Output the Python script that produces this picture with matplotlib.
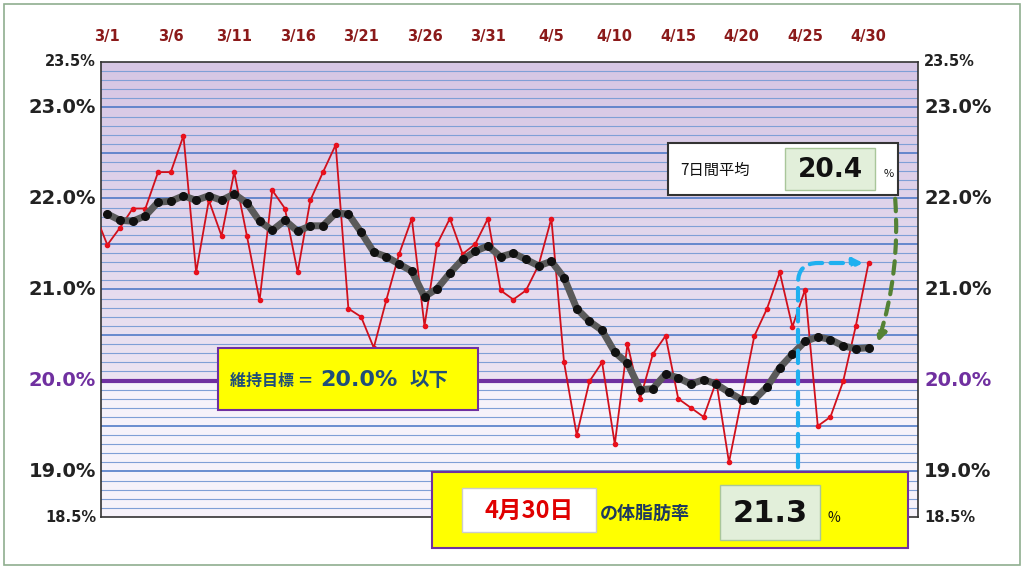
import matplotlib
matplotlib.use("Agg")
import matplotlib.pyplot as plt
import numpy as np
from matplotlib.patches import Rectangle, FancyArrowPatch

plt.rcParams['font.family'] = ['Noto Sans CJK JP', 'DejaVu Sans']

tick_labels = ["3/1","3/6","3/11","3/16","3/21","3/26","3/31","4/5","4/10","4/15","4/20","4/25","4/30"]
prev_value = 21.84
daily = [21.49,21.68,21.89,21.89,22.29,22.29,22.69,21.19,21.98,21.59,
         22.29,21.59,20.88,22.09,21.89,21.19,21.98,22.29,22.59,20.79,
         20.70,20.36,20.89,21.39,21.78,20.60,21.50,21.78,21.39,21.50,
         21.78,20.99,20.89,20.99,21.27,21.78,20.20,19.40,19.99,20.20,
         19.30,20.40,19.80,20.29,20.49,19.80,19.70,19.60,19.99,19.10,
         19.80,20.49,20.79,21.19,20.59,21.00,19.50,19.60,19.99,20.60,21.29]
avg7 = [21.83,21.76,21.75,21.81,21.96,21.97,22.03,21.98,22.03,21.98,
        22.05,21.95,21.75,21.65,21.76,21.64,21.70,21.70,21.84,21.83,
        21.63,21.41,21.36,21.28,21.20,20.92,21.01,21.18,21.33,21.42,
        21.48,21.36,21.40,21.33,21.26,21.31,21.13,20.79,20.65,20.55,
        20.31,20.19,19.90,19.91,20.07,20.03,19.96,20.01,19.96,19.87,
        19.79,19.79,19.93,20.14,20.29,20.43,20.48,20.45,20.38,20.35,20.36]
target = 20.0
latest_avg = "20.4"
latest_val = "21.3"

W, H = 1024, 570
fig = plt.figure(figsize=(W/100, H/100), dpi=100)
def fx(x): return x / W
def fy(y): return 1 - y / H

ax = fig.add_axes([fx(101), fy(517), fx(918) - fx(101), fy(62) - fy(517)])
ax.set_xlim(-0.5, 63.9)
ax.set_ylim(18.5, 23.5)

top = np.linspace(0, 1, 100).reshape(-1, 1)
ax.imshow(top, extent=[-0.5, 63.9, 20.0, 23.5], aspect='auto', origin='lower',
          cmap=matplotlib.colors.LinearSegmentedColormap.from_list('p', ['#ece4f2', '#d6c6e4']), zorder=0)
ax.axhspan(18.5, 20.0, color='#f6f2fa', zorder=0)
for v in np.arange(18.6, 23.45, 0.1):
    strong = abs(v * 2 - round(v * 2)) < 1e-6
    ax.axhline(v, color='#4472c4' if strong else '#7f9fd6', lw=1.1 if strong else 0.8, zorder=1)
ax.axhline(target, color='#7030a0', lw=3, zorder=2)

n = len(daily)
x = np.arange(n)
ax.plot(np.r_[-1, x], [prev_value] + daily, color='#d0101c', lw=1.3, zorder=3)
ax.plot(x, daily, 'o', color='#e8101c', ms=3, zorder=3)
ax.plot(x, avg7, color='#5a5a5a', lw=5, zorder=4, solid_capstyle='round')
ax.plot(x, avg7, 'o', color='#111111', ms=5.5, zorder=5)

ax.set_xticks([])
ax.set_yticks([])
for s in ax.spines.values():
    s.set_color('#333333'); s.set_linewidth(1.2)

for i, lab in enumerate(tick_labels):
    ax.text(i * 5, 23.5 + 0.28, lab, ha='center', va='center', fontsize=10.5,
            fontweight='bold', color='#8b1a1a', family=['DejaVu Sans'])

def ylab(val, big, color='#222222'):
    fs = 14 if big else 10.5
    yy = fy(62 + (23.5 - val) * 91)
    txt = f"{val:.1f}%"
    fig.text(fx(96), yy, txt, ha='right', va='center', fontsize=fs, fontweight='bold',
             color=color, family=['DejaVu Sans'])
    fig.text(fx(924), yy, txt, ha='left', va='center', fontsize=fs, fontweight='bold',
             color=color, family=['DejaVu Sans'])
for v in [19.0, 21.0, 22.0, 23.0]:
    ylab(v, True)
ylab(20.0, True, '#7030a0')
for v in [18.5, 23.5]:
    ylab(v, False)

fig.add_artist(Rectangle((fx(4), fy(565)), fx(1020) - fx(4), fy(4) - fy(565), fill=False,
                         ec='#8fae8f', lw=1.2, transform=fig.transFigure))

def box(x0, y0, x1, y1, fc, ec, lw=1.5, z=10):
    fig.add_artist(Rectangle((fx(x0), fy(y1)), fx(x1) - fx(x0), fy(y0) - fy(y1),
                             fc=fc, ec=ec, lw=lw, transform=fig.transFigure, zorder=z))

box(218, 348, 478, 410, '#ffff00', '#7030a0', 1.5)
fig.text(fx(230), fy(381), "維持目標 ＝ ", fontsize=11.5, fontweight='bold', color='#1f4e79', va='center', zorder=11)
fig.text(fx(320), fy(380), "20.0%", fontsize=16, fontweight='bold', color='#1f4e79', va='center', zorder=11,
         family=['DejaVu Sans'])
fig.text(fx(410), fy(381), "以下", fontsize=14, fontweight='bold', color='#1f4e79', va='center', zorder=11)

box(668, 143, 898, 195, 'white', '#333333', 1.5)
fig.text(fx(680), fy(170), "7日間平均", fontsize=11, color='#111111', va='center', zorder=11)
box(785, 148, 875, 190, '#e2efda', '#a9c69a', 1.0, 11)
fig.text(fx(830), fy(170), latest_avg, fontsize=19, fontweight='bold', color='#111111', va='center',
         ha='center', zorder=12, family=['DejaVu Sans'])
fig.text(fx(884), fy(174), "%", fontsize=8, color='#111111', va='center', zorder=11)

box(432, 472, 908, 548, '#ffff00', '#7030a0', 1.5)
box(462, 488, 596, 532, 'white', '#cccccc', 1.0, 11)
fig.text(fx(529), fy(511), "4月30日", fontsize=17, fontweight='bold', color='#e00000', va='center',
         ha='center', zorder=12)
fig.text(fx(600), fy(513), "の体脂肪率", fontsize=13, fontweight='bold', color='#1f3a5f', va='center', zorder=12)
box(720, 485, 820, 540, '#e2efda', '#a9c69a', 1.0, 11)
fig.text(fx(770), fy(513), latest_val, fontsize=22, fontweight='bold', color='#111111', va='center',
         ha='center', zorder=12, family=['DejaVu Sans'])
fig.text(fx(828), fy(518), "%", fontsize=10, color='#111111', va='center', zorder=12)

a1 = FancyArrowPatch((fx(798), fy(470)), (fx(866), fy(263)), transform=fig.transFigure,
                     connectionstyle="angle,angleA=90,angleB=0,rad=20", arrowstyle='-|>',
                     mutation_scale=14, color='#1fb0f0', lw=3, linestyle=(0, (3, 2)), zorder=9)
fig.add_artist(a1)
a2 = FancyArrowPatch((fx(895), fy(196)), (fx(877), fy(345)), transform=fig.transFigure,
                     connectionstyle="arc3,rad=-0.1", arrowstyle='-|>',
                     mutation_scale=14, color='#548235', lw=3, linestyle=(0, (3, 2)), zorder=9)
fig.add_artist(a2)

fig.savefig("out.png", dpi=100)
